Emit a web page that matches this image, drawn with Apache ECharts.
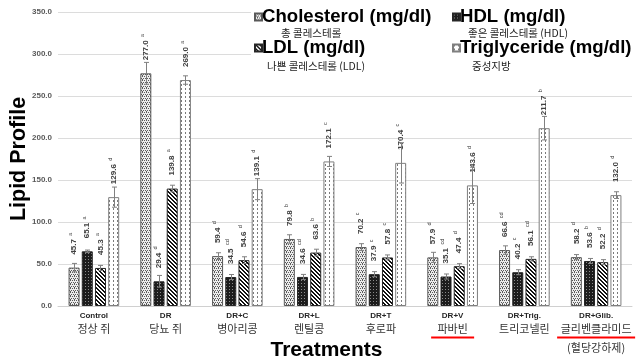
<!DOCTYPE html>
<html>
<head>
<meta charset="utf-8">
<script src="https://cdn.jsdelivr.net/npm/echarts@6/dist/echarts.min.js"></script>
<style>
html,body{margin:0;padding:0;background:#fff;}
#c{width:639px;height:360px;}
</style>
</head>
<body>
<div id="c"></div>
<script>
// ---- data ----
const categories = ['Control', 'DR', 'DR+C', 'DR+L', 'DR+T', 'DR+V', 'DR+Trig.', 'DR+Glib.'];
const koreanLabels = ['정상 쥐', '당뇨 쥐', '병아리콩', '렌틸콩', '후로파', '파바빈', '트리코넬린', '글리벤클라미드'];
const glibNote = '(혈당강하제)';
const underlinedCategories = ['DR+V', 'DR+Glib.'];

const seriesNames = ['Cholesterol (mg/dl)', 'HDL (mg/dl)', 'LDL (mg/dl)', 'Triglyceride (mg/dl)'];
const seriesSubtitles = ['총 콜레스테롤', '좋은 콜레스테롤 (HDL)', '나쁜 콜레스테롤 (LDL)', '중성지방'];

const cholesterol = [45.7, 277.0, 59.4, 79.8, 70.2, 57.9, 66.6, 58.2];
const hdl = [65.1, 29.4, 34.5, 34.6, 37.9, 35.1, 40.2, 53.6];
const ldl = [45.3, 139.8, 54.6, 63.6, 57.8, 47.4, 56.1, 52.2];
const triglyceride = [129.6, 269.0, 139.1, 172.1, 170.4, 143.6, 211.7, 132.0];

const cholLetters = ['a', 'a', 'd', 'b', 'c', 'd', 'cd', 'd'];
const hdlLetters = ['a', 'd', 'cd', 'cd', 'c', 'cd', 'c', 'b'];
const ldlLetters = ['a', 'a', 'd', 'b', 'c', 'd', 'cd', 'd'];
const tgLetters = ['d', 'a', 'd', 'c', 'c', 'd', 'b', 'd'];

const cholErr = [5, 13, 4, 5, 4, 6, 5, 3];
const hdlErr = [1.5, 7, 3, 3, 3, 3, 3, 3];
const ldlErr = [3, 4, 4, 4, 3, 3, 2.5, 3];
const tgErr = [12, 5, 12.5, 6, 24, 21.6, 14, 4];

const yTicks = { min: 0, max: 350, interval: 50 };

// ---- styles ----
const FONT = '"Liberation Sans", Arial, "Noto Sans CJK KR", sans-serif';
const KFONT = '"Noto Sans CJK KR", "Liberation Sans", sans-serif';
const BAR_W = 11;
const BAR_GAP = 2.2;

function makePattern(w, h, draw) {
  const c = document.createElement('canvas');
  c.width = w; c.height = h;
  const ctx = c.getContext('2d');
  draw(ctx, w, h);
  return { image: c, repeat: 'repeat' };
}
const patChol = makePattern(4, 4, (ctx) => {
  ctx.fillStyle = '#ececec'; ctx.fillRect(0, 0, 4, 4);
  ctx.fillStyle = '#5a5a5a';
  [[0,0],[2,0],[1,2],[3,2],[2,3]].forEach(p => ctx.fillRect(p[0], p[1], 1, 1));
});
const patHdl = makePattern(3, 3, (ctx) => {
  ctx.fillStyle = '#1c1c1c'; ctx.fillRect(0, 0, 3, 3);
  ctx.fillStyle = '#8a8a8a'; ctx.fillRect(1, 1, 1, 1);
});
const patLdl = makePattern(4, 4, (ctx) => {
  ctx.fillStyle = '#ffffff'; ctx.fillRect(0, 0, 4, 4);
  ctx.fillStyle = '#111111';
  for (let y = 0; y < 4; y++) for (let x = 0; x < 4; x++) {
    const k = ((x - y) % 4 + 4) % 4;
    if (k === 0 || k === 1) ctx.fillRect(x, y, 1, 1);
  }
});
const patTg = makePattern(4, 4, (ctx) => {
  ctx.fillStyle = '#ffffff'; ctx.fillRect(0, 0, 4, 4);
  ctx.fillStyle = '#7a7a7a';
  ctx.fillRect(1, 0, 1, 2);
});

const values = [cholesterol, hdl, ldl, triglyceride];
const letters = [cholLetters, hdlLetters, ldlLetters, tgLetters];
const errors = [cholErr, hdlErr, ldlErr, tgErr];
const patterns = [patChol, patHdl, patLdl, patTg];
const borders = ['#595959', '#262626', '#262626', '#7f7f7f'];

const barSeries = values.map((vals, si) => ({
  name: seriesNames[si],
  type: 'bar',
  data: vals,
  barWidth: BAR_W,
  barGap: (BAR_GAP / BAR_W * 100) + '%',
  itemStyle: { color: patterns[si], borderColor: borders[si], borderWidth: 1 },
  label: {
    show: true,
    position: 'top',
    distance: 13,
    rotate: 90,
    align: 'left',
    verticalAlign: 'middle',
    formatter: (p) => '{v|' + p.value.toFixed(1) + '} {s|' + letters[si][p.dataIndex] + '}',
    rich: {
      v: { fontSize: 8, fontWeight: 'bold', color: '#404040', fontFamily: FONT, lineHeight: 10 },
      s: { fontSize: 5.5, color: '#404040', fontFamily: FONT, verticalAlign: 'top', lineHeight: 10 }
    }
  },
  emphasis: { disabled: true },
  z: 2
}));

const errSeries = values.map((vals, si) => ({
  type: 'custom',
  silent: true,
  z: 3,
  data: vals.map((v, i) => [i, v, errors[si][i]]),
  renderItem: (params, api) => {
    const i = api.value(0), v = api.value(1), e = api.value(2);
    const off = (si - 1.5) * (BAR_W + BAR_GAP);
    const c = api.coord([i, v]);
    const x = Math.round(c[0] + off) + 0.5;
    const yt = api.coord([i, v + e])[1];
    const yb = api.coord([i, v - e])[1];
    const st = { stroke: '#808080', lineWidth: 1 };
    return {
      type: 'group',
      children: [
        { type: 'line', shape: { x1: x, y1: yt, x2: x, y2: yb }, style: st },
        { type: 'line', shape: { x1: x - 2.5, y1: yt, x2: x + 2.5, y2: yt }, style: st },
        { type: 'line', shape: { x1: x - 2.5, y1: yb, x2: x + 2.5, y2: yb }, style: st }
      ]
    };
  }
}));

const legendPos = [
  { left: 254, top: 7 },
  { left: 452, top: 7 },
  { left: 254, top: 38 },
  { left: 452, top: 38 }
];
const legends = seriesNames.map((n, i) => ({
  data: [n],
  left: legendPos[i].left,
  top: legendPos[i].top,
  padding: 0,
  itemWidth: 7,
  itemHeight: 7,
  icon: 'rect',
  selectedMode: false,
  z: 10,
  textStyle: { fontSize: 18.6, fontWeight: 'bold', color: '#000', fontFamily: FONT, lineHeight: 20, padding: [0, 0, 0, -5] }
}));

const subtitlePos = [[281, 33], [468, 33], [267, 66], [472, 66]];

const chart = echarts.init(document.getElementById('c'));
chart.setOption({
  animation: false,
  backgroundColor: '#ffffff',
  grid: { left: 58, right: 7, top: 12, bottom: 54, containLabel: false, outerBoundsMode: 'none' },
  legend: legends,
  xAxis: {
    type: 'category',
    data: categories,
    name: 'Treatments',
    nameLocation: 'middle',
    nameGap: 34,
    nameMoveOverlap: false,
    nameTextStyle: { fontSize: 21, fontWeight: 'bold', color: '#000', fontFamily: FONT, padding: [0, 37, 0, 0] },
    axisTick: { show: false },
    axisLine: { lineStyle: { color: '#d0d0d0', width: 1 } },
    axisLabel: {
      interval: 0,
      margin: 4,
      formatter: (val, idx) => {
        let s = '{en|' + val + '}\n{ko|' + koreanLabels[idx] + '}';
        if (val === 'DR+Glib.') s += '\n{ko3|' + glibNote + '}';
        return s;
      },
      rich: {
        en: { fontSize: 8, fontWeight: 'bold', color: '#262626', fontFamily: FONT, lineHeight: 12 },
        ko: { fontSize: 11, color: '#333333', fontFamily: KFONT, lineHeight: 14 },
        ko3: { fontSize: 11, color: '#333333', fontFamily: KFONT, lineHeight: 24 }
      }
    }
  },
  yAxis: {
    type: 'value',
    min: yTicks.min,
    max: yTicks.max,
    interval: yTicks.interval,
    name: 'Lipid Profile',
    nameLocation: 'middle',
    nameRotate: 90,
    nameGap: 28,
    nameMoveOverlap: false,
    nameTextStyle: { fontSize: 21.5, fontWeight: 'bold', color: '#000', fontFamily: FONT },
    axisLine: { show: false },
    axisTick: { show: false },
    axisLabel: { formatter: (v) => v.toFixed(1), fontSize: 8, fontWeight: 'bold', color: '#595959', fontFamily: FONT, margin: 6 },
    splitLine: { lineStyle: { color: '#dcdcdc', width: 1 } }
  },
  series: barSeries.concat(errSeries)
});

// decorations: white legend backdrop, Korean subtitles, red underlines
const graphics = [
  { type: 'rect', shape: { x: 251, y: 3, width: 384, height: 71 }, style: { fill: '#ffffff' }, z: 5, silent: true }
];
seriesSubtitles.forEach((t, i) => {
  graphics.push({
    type: 'text', x: subtitlePos[i][0], y: subtitlePos[i][1], z: 11, silent: true,
    style: { text: t, fontSize: 10.5, fontFamily: KFONT, fill: '#222', verticalAlign: 'middle', align: 'left' }
  });
});
const halfW = { 'DR+V': 21.5, 'DR+Glib.': 39 };
underlinedCategories.forEach((cat) => {
  const cx = chart.convertToPixel({ xAxisIndex: 0 }, cat);
  graphics.push({
    type: 'line', z: 11, silent: true,
    shape: { x1: cx - halfW[cat], y1: 337.5, x2: cx + halfW[cat], y2: 337.5 },
    style: { stroke: '#ff0000', lineWidth: 2 }
  });
});
chart.setOption({ graphic: graphics });
</script>
</body>
</html>
